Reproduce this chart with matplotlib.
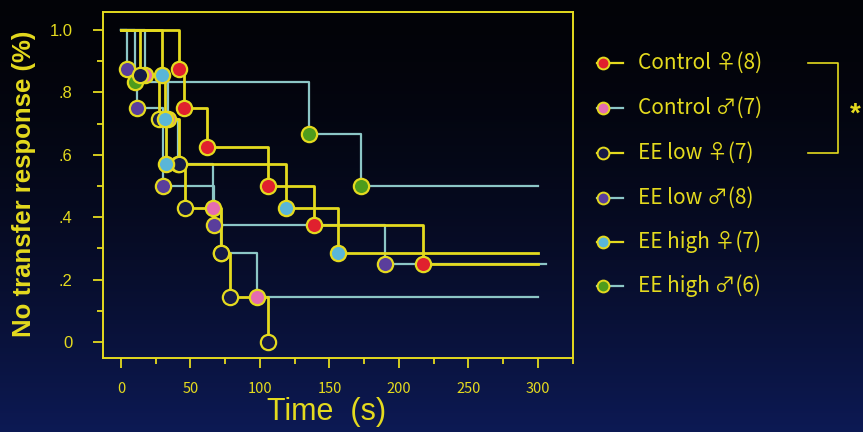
import numpy as np
import matplotlib
matplotlib.use('Agg')
import matplotlib.pyplot as plt
from matplotlib.lines import Line2D

# survival data (time in s, fraction without transfer response)
labels = ['Control ♀(8)', 'Control ♂(7)', 'EE low ♀(7)',
          'EE low ♂(8)', 'EE high ♀(7)', 'EE high ♂(6)']
ctrl_f_t = [42, 45, 62, 106, 139, 217]
ctrl_f_s = [0.875, 0.75, 0.625, 0.5, 0.375, 0.25]
ctrl_m_t = [17, 34, 41, 66, 72, 98]
ctrl_m_s = [0.857, 0.714, 0.571, 0.429, 0.286, 0.143]
low_f_t = [14, 27, 42, 46, 72, 78.5, 106]
low_f_s = [0.857, 0.714, 0.571, 0.429, 0.286, 0.143, 0.0]
low_m_t = [4.5, 11.5, 30, 67, 190]
low_m_s = [0.875, 0.75, 0.5, 0.375, 0.25]
high_f_t = [29.5, 32, 32.5, 119, 156]
high_f_s = [0.857, 0.714, 0.571, 0.429, 0.286]
high_m_t = [10, 135, 173]
high_m_s = [0.833, 0.667, 0.5]
end_t = [300, 300, None, 306, 300, 300]

xticks = [0, 50, 100, 150, 200, 250, 300]
yticks = [0, 0.2, 0.4, 0.6, 0.8, 1.0]
ytick_labels = ['0', '.2', '.4', '.6', '.8', '1.0']

YEL = '#e4da1e'
TEAL = '#8cc6c6'
line_cols = [YEL, TEAL, YEL, TEAL, YEL, TEAL]
mark_cols = ['#e0202e', '#e46cb0', '#151a46', '#5a3e9c', '#5ab6d8', '#4e9c1c']

times = [ctrl_f_t, ctrl_m_t, low_f_t, low_m_t, high_f_t, high_m_t]
survs = [ctrl_f_s, ctrl_m_s, low_f_s, low_m_s, high_f_s, high_m_s]

fig = plt.figure(figsize=(8.63, 4.32), dpi=100)

# background gradient, black at top to navy at bottom
bg = fig.add_axes([0, 0, 1, 1], zorder=-10)
t = np.linspace(0, 1, 256) ** 1.6
top = np.array([0.01, 0.012, 0.03])
bot = np.array([0.05, 0.10, 0.33])
grad = (top[None, :] * (1 - t[:, None]) + bot[None, :] * t[:, None])[:, None, :]
bg.imshow(grad, aspect='auto', extent=[0, 1, 0, 1], origin='upper')
bg.axis('off')

ax = fig.add_axes([103/863, 1 - 358/432, 470/863, 346/432])
ax.set_facecolor('none')

# teal (male) curves first, yellow on top
order = [1, 3, 5, 0, 2, 4]
for i in order:
    x = [0] + times[i]
    y = [1.0] + survs[i]
    if end_t[i] is not None:
        x = x + [end_t[i]]
        y = y + [survs[i][-1]]
    lw = 2.0 if line_cols[i] == YEL else 1.6
    ax.plot(x, y, drawstyle='steps-post', color=line_cols[i], lw=lw,
            zorder=2 if line_cols[i] == YEL else 1)
for i in order:
    ax.plot(times[i], survs[i], 'o', ms=11, mfc=mark_cols[i], mec=YEL,
            mew=1.6, zorder=3, ls='none')

ax.set_xlim(-12.95, 325.2)
ax.set_ylim(-0.0513, 1.0577)
ax.set_xticks(xticks)
ax.set_xticks(np.arange(25, 330, 50), minor=True)
ax.set_yticks(yticks)
ax.set_yticklabels(ytick_labels)
ax.set_yticks([0.1, 0.3, 0.5, 0.7, 0.9], minor=True)
for s in ax.spines.values():
    s.set_color(YEL)
    s.set_linewidth(1.4)
ax.tick_params(which='both', direction='out', color=YEL, width=1.3, labelcolor=YEL)
ax.tick_params(which='major', length=7)
ax.tick_params(which='minor', length=4)
ax.tick_params(axis='y', pad=15, labelsize=12)
ax.tick_params(axis='x', pad=10, labelsize=10.5)
for lab in ax.get_yticklabels():
    lab.set_family('Liberation Sans')
for lab in ax.get_xticklabels():
    lab.set_family('Noto Sans CJK JP')

fig.text(24/863, 1 - 184/432, 'No transfer response (%)', rotation=90,
         ha='center', va='center', color=YEL, fontsize=18.5, fontweight='bold',
         family='Liberation Sans')
fig.text(327/863, 1 - 412/432, 'Time  (s)', ha='center', va='center',
         color=YEL, fontsize=22, family='Liberation Sans')

# legend drawn by hand
W, H = 863.0, 432.0
row_y = [63, 108, 153, 198, 242, 286]
for i in range(6):
    yy = 1 - row_y[i] / H
    fig.add_artist(Line2D([597/W, 623/W], [yy, yy], color=line_cols[i], lw=1.6))
    fig.add_artist(Line2D([603/W], [yy], marker='o', ms=8.5, mfc=mark_cols[i],
                          mec=YEL, mew=1.4, ls='none'))
    fig.text(638/W, yy, labels[i], ha='left', va='center', color=YEL,
             fontsize=15, family=['Noto Sans CJK JP', 'DejaVu Sans'])

# significance bracket
fig.add_artist(Line2D([808/W, 838/W, 838/W, 808/W],
                      [1 - 63/H, 1 - 63/H, 1 - 153/H, 1 - 153/H], color=YEL, lw=1.2))
fig.text(855/W, 1 - 115/H, '*', ha='center', va='center', color=YEL,
         fontsize=20, fontweight='bold', family='Liberation Sans')

fig.savefig('out.png', dpi=100, facecolor='black')
